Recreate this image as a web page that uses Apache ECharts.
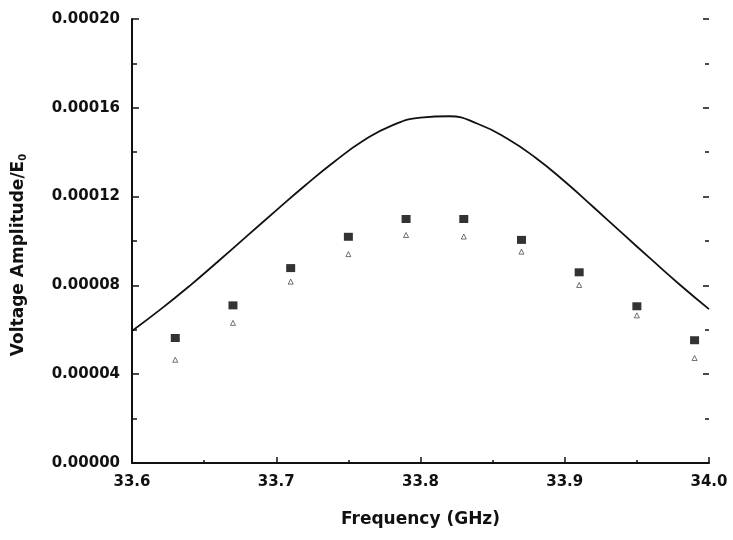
<!DOCTYPE html>
<html>
<head>
<meta charset="utf-8">
<script src="https://cdn.jsdelivr.net/npm/echarts@6/dist/echarts.min.js"></script>
<style>
html,body{margin:0;padding:0;background:#fff;}
#chart{width:733px;height:540px;}
</style>
</head>
<body>
<div id="chart"></div>
<script>
// Data (values in units of 1e-5)
var pointFreqs = [33.63, 33.67, 33.71, 33.75, 33.79, 33.83, 33.87, 33.91, 33.95, 33.99];
var measured   = [5.63, 7.10, 8.78, 10.19, 10.99, 10.99, 10.05, 8.59, 7.06, 5.53];
var secondSet  = [4.65, 6.31, 8.17, 9.41, 10.27, 10.20, 9.52, 8.02, 6.65, 4.73];
var curveFreqs = [33.60, 33.62, 33.64, 33.66, 33.68, 33.70, 33.72, 33.74, 33.76, 33.78, 33.80,
                  33.82, 33.84, 33.86, 33.88, 33.90, 33.92, 33.94, 33.96, 33.98, 34.00];
var curveVals  = [5.95, 6.93, 7.98, 9.10, 10.24, 11.38, 12.50, 13.56, 14.50, 15.20, 15.56,
                  15.62, 15.27, 14.62, 13.74, 12.68, 11.52, 10.34, 9.17, 8.02, 6.93];
var SCALE = 1e-5;
var xTitle = 'Frequency (GHz)';
var yTitle = 'Voltage Amplitude/E{sub|0}';

function pairs(xs, ys) {
  return xs.map(function (x, i) { return [x, ys[i] * SCALE]; });
}

var chart = echarts.init(document.getElementById('chart'), null, {renderer: 'canvas'});
var labelFont = {color: '#111', fontFamily: 'DejaVu Sans', fontWeight: 'bold', fontSize: 15};
chart.setOption({
  animation: false,
  backgroundColor: '#fff',
  grid: {left: 132, right: 24, top: 19, bottom: 77, containLabel: false},
  xAxis: [{
    type: 'value', min: 33.6, max: 34.0, interval: 0.1, position: 'bottom',
    name: xTitle, nameLocation: 'middle', nameGap: 48,
    nameTextStyle: {color: '#111', fontFamily: 'DejaVu Sans', fontWeight: 'bold', fontSize: 17},
    axisLine: {show: false},
    axisTick: {show: true, inside: true, length: 6, lineStyle: {color: '#111', width: 1.5}},
    minorTick: {show: true, splitNumber: 2, length: 3, lineStyle: {color: '#111', width: 1.5}},
    splitLine: {show: false},
    axisLabel: Object.assign({margin: 12, formatter: function (v) { return v.toFixed(1); }}, labelFont)
  }, {
    type: 'value', min: 33.6, max: 34.0, interval: 0.1, position: 'top',
    axisLine: {show: true, lineStyle: {color: '#111', width: 2}},
    axisTick: {show: false}, axisLabel: {show: false}, splitLine: {show: false}
  }],
  yAxis: [{
    type: 'value', min: 0, max: 0.0002, interval: 0.00004, position: 'left',
    name: yTitle, nameLocation: 'middle', nameGap: 104, nameRotate: 90,
    nameTextStyle: {color: '#111', fontFamily: 'DejaVu Sans', fontWeight: 'bold', fontSize: 17,
      padding: [0, 28, 0, 0],
      rich: {sub: {fontSize: 10, fontWeight: 'bold', fontFamily: 'DejaVu Sans', color: '#111', verticalAlign: 'bottom', padding: [8, 0, 0, 0]}}},
    axisLine: {show: true, lineStyle: {color: '#111', width: 2}},
    axisTick: {show: true, inside: true, length: 7, lineStyle: {color: '#111', width: 1.5}},
    minorTick: {show: true, splitNumber: 2, length: 5, lineStyle: {color: '#111', width: 1.5}},
    splitLine: {show: false},
    axisLabel: Object.assign({margin: 12, formatter: function (v) { return v.toFixed(5); }}, labelFont)
  }, {
    type: 'value', min: 0, max: 0.0002, interval: 0.00004, position: 'right',
    axisLine: {show: false},
    axisTick: {show: true, inside: true, length: 6, lineStyle: {color: '#111', width: 1.5}},
    minorTick: {show: true, splitNumber: 2, length: 4, lineStyle: {color: '#111', width: 1.5}},
    splitLine: {show: false}, axisLabel: {show: false}
  }],
  series: [{
    type: 'line', xAxisIndex: 0, yAxisIndex: 0,
    data: pairs(curveFreqs, curveVals), smooth: 0.5, showSymbol: false,
    lineStyle: {color: '#111', width: 1.8}, z: 3
  }, {
    type: 'scatter', xAxisIndex: 0, yAxisIndex: 0,
    data: pairs(pointFreqs, measured), symbol: 'rect', symbolSize: [9, 8],
    itemStyle: {color: '#000'}, z: 4
  }, {
    type: 'scatter', xAxisIndex: 0, yAxisIndex: 0,
    data: pairs(pointFreqs, secondSet), symbol: 'triangle', symbolSize: 5,
    itemStyle: {color: 'rgba(0,0,0,0)', borderColor: '#222', borderWidth: 0.8}, z: 4
  }]
});
</script>
</body>
</html>
